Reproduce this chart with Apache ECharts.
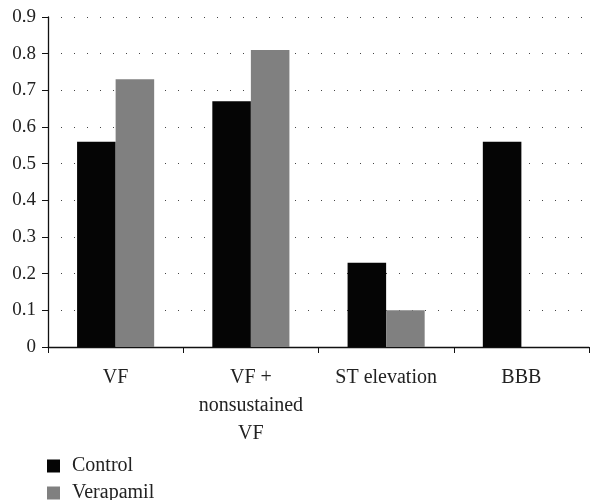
<!DOCTYPE html>
<html><head><meta charset="utf-8">
<script src="https://cdn.jsdelivr.net/npm/echarts@6/dist/echarts.min.js"></script>
<style>html,body{margin:0;padding:0;background:#fff}#c{width:590px;height:500px}</style>
</head><body><div id="c"></div>
<script>
const categories = ['VF', 'VF +\nnonsustained\nVF', 'ST elevation', 'BBB'];
const controlValues = [0.56, 0.67, 0.23, 0.56];
const verapamilValues = [0.73, 0.81, 0.10, 0];
const yTicks = [0, 0.1, 0.2, 0.3, 0.4, 0.5, 0.6, 0.7, 0.8, 0.9];

const font = "'Liberation Serif', 'DejaVu Serif', serif";
const chart = echarts.init(document.getElementById('c'));
chart.setOption({
  animation: false,
  textStyle: { fontFamily: font },
  grid: { left: 48, right: 1, top: 17, bottom: 153, containLabel: false },
  legend: {
    orient: 'vertical', left: 47, top: 456, height: 80, padding: 0,
    itemWidth: 13, itemHeight: 13, itemGap: 7,
    icon: 'rect',
    textStyle: { fontFamily: font, fontSize: 20, lineHeight: 20, color: '#222', padding: [0, 0, 0, 7] },
    data: ['Control', 'Verapamil']
  },
  xAxis: {
    type: 'category', data: categories,
    axisLine: { lineStyle: { color: '#111', width: 1.3 } },
    axisTick: { show: true, length: 6, alignWithLabel: false, lineStyle: { color: '#111' } },
    axisLabel: { fontFamily: font, fontSize: 20, color: '#222', margin: 17, lineHeight: 28, interval: 0 }
  },
  yAxis: {
    type: 'value', min: 0, max: 0.9, interval: 0.1,
    axisLine: { show: true, lineStyle: { color: '#111', width: 1.3 } },
    axisTick: { show: true, length: 6, inside: false, lineStyle: { color: '#111' } },
    axisLabel: { fontFamily: font, fontSize: 19, color: '#222', margin: 12,
      formatter: v => { const t = yTicks.find(x => Math.abs(x - v) < 1e-9); return t === undefined ? '' : String(t); } },
    splitLine: { show: true, lineStyle: { color: '#444', width: 1, type: [1, 12] } }
  },
  series: [
    { name: 'Control', type: 'bar', data: controlValues, itemStyle: { color: '#050505' }, barGap: '0%', barCategoryGap: '43%' },
    { name: 'Verapamil', type: 'bar', data: verapamilValues, itemStyle: { color: '#808080' } }
  ]
});
</script></body></html>
